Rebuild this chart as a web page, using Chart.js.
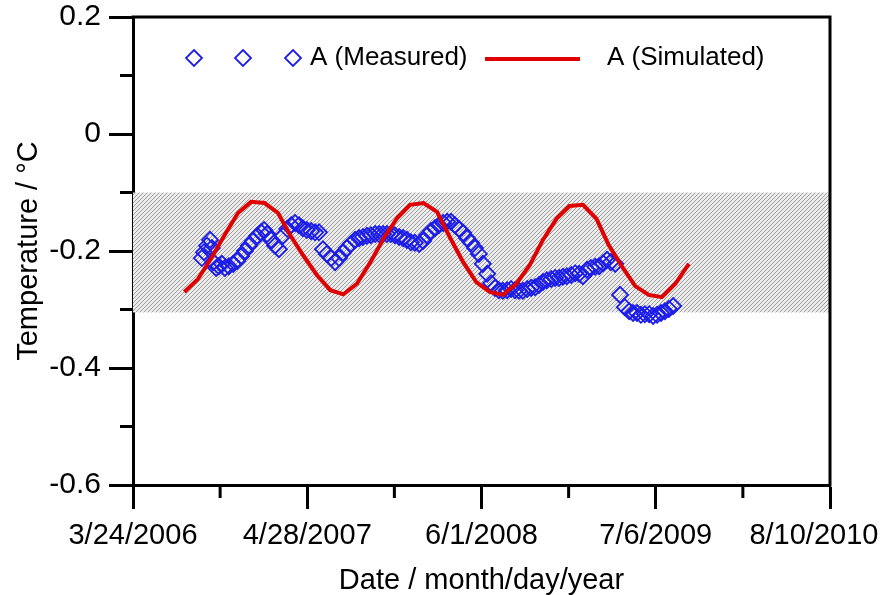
<!DOCTYPE html>
<html lang="en">
<head>
<meta charset="UTF-8">
<title>Temperature A - measured vs simulated</title>
<script src="https://cdn.jsdelivr.net/npm/chart.js@4"></script>
<style>
  html, body { margin: 0; padding: 0; background: #fff; }
  #wrap { width: 883px; height: 595px; }
</style>
</head>
<body>
<div id="wrap"><canvas id="tempChart"></canvas></div>
<script>
const FONT = "'Liberation Sans', Arial, sans-serif";
const MEAS_COLOR = '#1c1ce8';
const SIM_COLOR = '#e00000';

// x axis runs in days counted from 3/24/2006
const xTicksMajor = [0, 400, 800, 1200, 1600];
const xTicksMinor = [200, 600, 1000, 1400];
const yTicksMajor = [0.2, 0, -0.2, -0.4, -0.6];
const yTicksMinor = [0.1, -0.1, -0.3, -0.5];

// shaded temperature range
const bandTop = -0.1;
const bandBottom = -0.305;

// A (Measured): day offset / temperature
const measDay = [
  158, 163, 170, 177, 181, 184, 191, 197, 204, 211,
  220, 230, 239, 248, 257, 266, 275, 285, 294, 301,
  308, 317, 326, 335, 344, 354, 363, 372, 381, 390,
  399, 409, 418, 427, 436, 445, 455, 464, 473, 482,
  491, 500, 510, 519, 528, 537, 546, 556, 565, 574,
  583, 592, 601, 611, 620, 629, 638, 647, 657, 666,
  675, 684, 693, 702, 712, 721, 730, 739, 748, 758,
  767, 776, 785, 794, 803, 813, 822, 831, 840, 849,
  859, 868, 877, 886, 895, 905, 914, 923, 932, 941,
  950, 960, 969, 978, 987, 996, 1006, 1015, 1024, 1033,
  1042, 1051, 1061, 1070, 1079, 1088, 1097, 1107, 1118, 1129,
  1139, 1148, 1157, 1166, 1175, 1185, 1194, 1203, 1212, 1221,
  1230, 1240
];
const measTemp = [
  -0.212, -0.202, -0.191, -0.181, -0.195, -0.219, -0.229, -0.226, -0.222, -0.229,
  -0.226, -0.222, -0.217, -0.209, -0.200, -0.191, -0.183, -0.174, -0.168, -0.164,
  -0.171, -0.181, -0.191, -0.197, -0.174, -0.162, -0.156, -0.152, -0.156, -0.161,
  -0.164, -0.166, -0.168, -0.168, -0.197, -0.205, -0.212, -0.219, -0.212, -0.203,
  -0.195, -0.188, -0.181, -0.178, -0.176, -0.174, -0.173, -0.171, -0.171, -0.171,
  -0.171, -0.171, -0.173, -0.176, -0.178, -0.181, -0.185, -0.186, -0.188, -0.183,
  -0.173, -0.166, -0.161, -0.156, -0.152, -0.150, -0.150, -0.156, -0.162, -0.169,
  -0.178, -0.186, -0.195, -0.205, -0.222, -0.239, -0.255, -0.263, -0.267, -0.268,
  -0.267, -0.265, -0.267, -0.268, -0.268, -0.265, -0.263, -0.262, -0.258, -0.253,
  -0.250, -0.248, -0.246, -0.246, -0.244, -0.243, -0.241, -0.238, -0.239, -0.243,
  -0.232, -0.229, -0.227, -0.226, -0.221, -0.215, -0.219, -0.222, -0.275, -0.296,
  -0.303, -0.306, -0.306, -0.309, -0.308, -0.308, -0.311, -0.309, -0.306, -0.303,
  -0.299, -0.294
];

// A (Simulated): monthly values (taken on the 20th)
const simMonth = [
  '2006-07', '2006-08', '2006-09', '2006-10', '2006-11', '2006-12',
  '2007-01', '2007-02', '2007-03', '2007-04', '2007-05', '2007-06',
  '2007-07', '2007-08', '2007-09', '2007-10', '2007-11', '2007-12',
  '2008-01', '2008-02', '2008-03', '2008-04', '2008-05', '2008-06',
  '2008-07', '2008-08', '2008-09', '2008-10', '2008-11', '2008-12',
  '2009-01', '2009-02', '2009-03', '2009-04', '2009-05', '2009-06',
  '2009-07', '2009-08', '2009-09'
];
const simTemp = [
  -0.270, -0.248, -0.212, -0.173, -0.135, -0.116,
  -0.118, -0.135, -0.173, -0.209, -0.241, -0.267,
  -0.274, -0.256, -0.219, -0.179, -0.144, -0.121,
  -0.118, -0.133, -0.176, -0.219, -0.253, -0.270,
  -0.275, -0.256, -0.224, -0.181, -0.145, -0.123,
  -0.121, -0.145, -0.190, -0.227, -0.260, -0.275,
  -0.279, -0.256, -0.222
];

const START = Date.UTC(2006, 2, 24);
const DAY = 864e5;

function monthToDay(m) {
  const [y, mo] = m.split('-').map(Number);
  return (Date.UTC(y, mo - 1, 20) - START) / DAY;
}

function fmtDate(v) {
  const d = new Date(START + v * DAY);
  return (d.getUTCMonth() + 1) + '/' + d.getUTCDate() + '/' + d.getUTCFullYear();
}

const measPoints = measDay.map((d, i) => ({ x: d, y: measTemp[i] }));
const simPoints = simMonth.map((m, i) => ({ x: monthToDay(m), y: simTemp[i] }));

// diagonal hatch for the shaded band
function hatchPattern(ctx) {
  const tile = document.createElement('canvas');
  tile.width = 4;
  tile.height = 4;
  const t = tile.getContext('2d');
  t.fillStyle = '#ececec';
  t.fillRect(0, 0, 4, 4);
  t.strokeStyle = '#9c9c9c';
  t.lineWidth = 1;
  t.beginPath();
  t.moveTo(-1, 1); t.lineTo(1, -1);
  t.moveTo(0, 4); t.lineTo(4, 0);
  t.moveTo(3, 5); t.lineTo(5, 3);
  t.stroke();
  return ctx.createPattern(tile, 'repeat');
}

const bandPlugin = {
  id: 'band',
  beforeDatasetsDraw(chart) {
    const { ctx, chartArea, scales } = chart;
    const y1 = scales.y.getPixelForValue(bandTop);
    const y2 = scales.y.getPixelForValue(bandBottom);
    ctx.save();
    ctx.fillStyle = hatchPattern(ctx);
    ctx.fillRect(chartArea.left, y1, chartArea.right - chartArea.left, y2 - y1);
    ctx.restore();
  }
};

function diamond(ctx, x, y, r) {
  ctx.beginPath();
  ctx.moveTo(x, y - r);
  ctx.lineTo(x + r, y);
  ctx.lineTo(x, y + r);
  ctx.lineTo(x - r, y);
  ctx.closePath();
  ctx.stroke();
}

// frame, minor ticks and the in-plot legend
const framePlugin = {
  id: 'frame',
  afterDraw(chart) {
    const { ctx, chartArea: a, scales } = chart;
    ctx.save();
    ctx.strokeStyle = '#000';
    ctx.lineWidth = 3;
    ctx.lineCap = 'square';
    ctx.beginPath();
    ctx.moveTo(a.left, a.top);
    ctx.lineTo(a.right, a.top);
    ctx.lineTo(a.right, a.bottom);
    ctx.stroke();

    ctx.lineCap = 'butt';
    ctx.beginPath();
    xTicksMinor.forEach(v => {
      const x = scales.x.getPixelForValue(v);
      ctx.moveTo(x, a.bottom);
      ctx.lineTo(x, a.bottom + 13);
    });
    yTicksMinor.forEach(v => {
      const y = scales.y.getPixelForValue(v);
      ctx.moveTo(a.left, y);
      ctx.lineTo(a.left - 13, y);
    });
    ctx.stroke();

    // legend
    const ly = a.top + 41;
    ctx.strokeStyle = MEAS_COLOR;
    ctx.lineWidth = 1.8;
    [a.left + 61, a.left + 110, a.left + 160].forEach(x => diamond(ctx, x, ly, 8));
    ctx.fillStyle = '#000';
    ctx.font = '26px ' + FONT;
    ctx.textBaseline = 'middle';
    ctx.fillText('A (Measured)', a.left + 177, ly);
    ctx.strokeStyle = SIM_COLOR;
    ctx.lineWidth = 4;
    ctx.beginPath();
    ctx.moveTo(a.left + 352, ly + 1);
    ctx.lineTo(a.left + 447, ly + 1);
    ctx.stroke();
    ctx.fillText('A (Simulated)', a.left + 474, ly);
    ctx.restore();
  }
};

const tickFont = { family: FONT, size: 29 };
const titleFont = { family: FONT, size: 29, lineHeight: 1 };

new Chart(document.getElementById('tempChart'), {
  type: 'scatter',
  data: {
    datasets: [
      {
        label: 'A (Simulated)',
        data: simPoints,
        showLine: true,
        borderColor: SIM_COLOR,
        borderWidth: 4,
        pointRadius: 0,
        tension: 0,
        order: 0
      },
      {
        label: 'A (Measured)',
        data: measPoints,
        showLine: false,
        pointStyle: 'rectRot',
        pointRadius: 8,
        pointBorderWidth: 1.8,
        pointBorderColor: MEAS_COLOR,
        pointBackgroundColor: 'rgba(0,0,0,0)',
        order: 1
      }
    ]
  },
  options: {
    responsive: true,
    maintainAspectRatio: false,
    animation: false,
    layout: { padding: { top: 17, right: 53, left: 0, bottom: 0 } },
    plugins: {
      legend: { display: false },
      tooltip: { enabled: false }
    },
    scales: {
      x: {
        type: 'linear',
        min: 0,
        max: 1600,
        afterBuildTicks: s => { s.ticks = xTicksMajor.map(v => ({ value: v })); },
        afterFit: s => { s.height = 110; s.paddingLeft = 0; s.paddingRight = 0; },
        ticks: {
          font: tickFont,
          color: '#000',
          padding: 10,
          maxRotation: 0,
          autoSkip: false,
          // the last date is nudged left so it stays inside the canvas
          callback: v => v === 1600 ? fmtDate(v) + '    ' : fmtDate(v)
        },
        grid: { drawOnChartArea: false, tickLength: 24, tickWidth: 3, tickColor: '#000' },
        border: { display: true, width: 3, color: '#000' },
        title: { display: true, text: 'Date / month/day/year', font: titleFont, color: '#000', padding: { top: 0, bottom: 0 } }
      },
      y: {
        min: -0.6,
        max: 0.2,
        afterBuildTicks: s => { s.ticks = yTicksMajor.map(v => ({ value: v })); },
        afterFit: s => { s.width = 133; s.paddingTop = 0; s.paddingBottom = 0; },
        ticks: {
          font: { family: FONT, size: 30 },
          color: '#000',
          padding: 8,
          callback: v => Math.abs(v) < 1e-9 ? '0' : v.toFixed(1)
        },
        grid: { drawOnChartArea: false, tickLength: 24, tickWidth: 3, tickColor: '#000' },
        border: { display: true, width: 3, color: '#000' },
        title: { display: true, text: 'Temperature / °C', font: titleFont, color: '#000', padding: { top: 14, bottom: 0 } }
      }
    }
  },
  plugins: [bandPlugin, framePlugin]
});
</script>
</body>
</html>
